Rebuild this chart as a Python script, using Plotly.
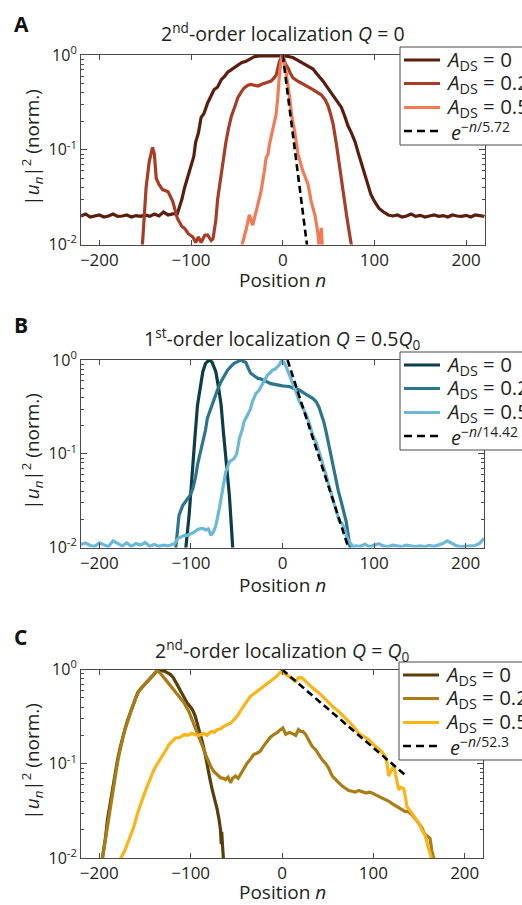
import numpy as np
import plotly.graph_objects as go

# ---------------- Panel A : 2nd-order localization, Q = 0 ----------------
a0_n = [-220, -215, -210, -205, -200, -195, -190, -185, -180, -175, -170, -165, -160, -155, -150,
        -145, -140, -135, -130, -125, -120, -115, -110, -107, -104, -100, -97, -95, -92, -89, -86,
        -82, -79, -75, -71, -67, -63, -60, -56, -52, -48, -45, -40, -35, -31, -25, -20, -12, -5, 0,
        5, 11, 17, 22, 28, 33, 38, 44, 49, 55, 60, 64, 68, 71, 75, 79, 82, 86, 89, 93, 96, 100, 105,
        110, 115, 120, 125, 130, 135, 140, 145, 150, 155, 160, 165, 170, 175, 180, 185, 190, 195,
        200, 205, 210, 215, 220]
a0_v = [0.020, 0.021, 0.0195, 0.020, 0.0205, 0.0195, 0.020, 0.021, 0.0198, 0.020, 0.0205, 0.0195,
        0.0202, 0.0198, 0.0205, 0.0198, 0.021, 0.020, 0.022, 0.0205, 0.021, 0.021, 0.03, 0.04, 0.05,
        0.07, 0.085, 0.12, 0.15, 0.22, 0.24, 0.31, 0.36, 0.43, 0.46, 0.55, 0.60, 0.66, 0.70, 0.74,
        0.78, 0.83, 0.86, 0.92, 0.96, 0.98, 0.98, 0.97, 0.98, 0.99, 0.97, 0.94, 0.87, 0.82, 0.77,
        0.71, 0.62, 0.53, 0.45, 0.37, 0.31, 0.28, 0.22, 0.18, 0.15, 0.12, 0.095, 0.07, 0.055, 0.043,
        0.034, 0.0285, 0.024, 0.022, 0.0205, 0.020, 0.0205, 0.0195, 0.020, 0.021, 0.0198, 0.0203,
        0.0195, 0.020, 0.0205, 0.0198, 0.0202, 0.0195, 0.0205, 0.020, 0.0198, 0.0203, 0.0195, 0.0205,
        0.020, 0.0198]

a2_n = [-160, -153, -149, -145.6, -142, -140, -138, -135, -131, -128, -125, -120, -115, -110, -107,
        -103, -98, -95, -92, -89, -85, -82, -78, -76, -73, -71, -68, -65, -62, -59, -56, -52, -49,
        -45, -42, -38, -35, -31, -27, -23, -20, -16, -12.7, -9, -7, -3.6, 0, 3, 5.8, 8, 11, 15, 18,
        22, 27, 33, 38, 42, 46, 49.5, 52, 55, 58.6, 62, 66, 69.5, 73, 76, 80]
a2_v = [0.005, 0.01, 0.04, 0.075, 0.106, 0.09, 0.05, 0.043, 0.038, 0.037, 0.036, 0.0285, 0.019,
        0.0155, 0.0148, 0.013, 0.012, 0.0105, 0.012, 0.0105, 0.0125, 0.0126, 0.011, 0.0115, 0.018,
        0.03, 0.05, 0.075, 0.12, 0.17, 0.226, 0.29, 0.354, 0.41, 0.45, 0.48, 0.49, 0.48, 0.47, 0.49,
        0.50, 0.51, 0.53, 0.58, 0.62, 0.86, 1.0, 0.80, 0.73, 0.65, 0.575, 0.54, 0.52, 0.49, 0.47,
        0.43, 0.40, 0.38, 0.34, 0.29, 0.24, 0.185, 0.113, 0.064, 0.036, 0.0206, 0.0126, 0.008, 0.005]

a5_n = [-48, -45.5, -40, -36.4, -32.8, -30, -27.3, -24, -21.8, -20, -18.2, -16, -14.6, -11, -7.3,
        -5.5, -3.6, -1, 0, 2, 4, 7.6, 10, 13, 16.7, 19, 22, 25, 27.6, 31, 35, 37, 38.6, 40, 42, 44]
a5_v = [0.006, 0.009, 0.0143, 0.0206, 0.016, 0.020, 0.026, 0.035, 0.046, 0.060, 0.082, 0.090,
        0.113, 0.17, 0.235, 0.35, 0.62, 1.0, 1.0, 0.80, 0.62, 0.35, 0.22, 0.157, 0.089, 0.075,
        0.059, 0.050, 0.043, 0.0285, 0.0206, 0.016, 0.0126, 0.008, 0.015, 0.007]

# ---------------- Panel B : 1st-order localization, Q = 0.5 Q0 ----------------
b0_n = [-107, -105.5, -102, -98, -95.7, -92.8, -90, -87, -84, -80, -77, -72.8, -70, -67, -64.5,
        -62, -58, -56, -54.6, -53]
b0_v = [0.006, 0.01, 0.022, 0.064, 0.146, 0.33, 0.50, 0.75, 0.92, 1.0, 0.95, 0.75, 0.52, 0.33,
        0.17, 0.097, 0.036, 0.018, 0.01, 0.006]

b2_n = [-118, -116.5, -113, -109, -106, -103.7, -101, -98, -95, -92.8, -90, -87, -84, -82, -78,
        -74.6, -71, -67, -63, -60, -56, -52.8, -49, -45.5, -43, -40, -37, -34.6, -31, -27.3, -24,
        -20, -16, -12.7, -9, -5.5, -3, 0, 4, 7.6, 12, 18.5, 24, 29.5, 33, 36.7, 40, 42, 45, 47.7,
        50, 53, 56, 58.6, 61, 64, 67, 69.5, 72, 74, 76]
b2_v = [0.007, 0.01, 0.022, 0.028, 0.031, 0.033, 0.036, 0.042, 0.056, 0.076, 0.10, 0.134, 0.18,
        0.24, 0.31, 0.39, 0.48, 0.59, 0.69, 0.78, 0.86, 0.92, 0.96, 1.0, 0.97, 0.94, 0.80, 0.72,
        0.68, 0.64, 0.63, 0.61, 0.58, 0.56, 0.55, 0.54, 0.53, 0.53, 0.525, 0.52, 0.50, 0.48, 0.44,
        0.41, 0.39, 0.36, 0.31, 0.27, 0.22, 0.17, 0.13, 0.097, 0.07, 0.05, 0.04, 0.031, 0.024,
        0.019, 0.013, 0.01, 0.007]

b5_n = [-220, -215, -210, -205, -200, -195, -190, -185, -180, -175, -170, -165, -160, -155, -150,
        -145, -140, -135, -130, -125, -120, -118, -114, -111, -107, -103.7, -100, -96.4, -93, -89,
        -86, -83.7, -81, -78, -75, -72.8, -69, -65.5, -62, -58, -55, -52.8, -50, -47, -44, -42,
        -38, -35, -32.8, -29, -26, -23.7, -20, -16.4, -13, -11, -8, -5.5, -3, -1, 1, 4, 7, 11.3,
        15, 18.5, 22, 26, 30, 33, 37, 40, 44, 47.7, 51, 55, 58, 62, 65, 67.7, 70, 73, 77, 80, 85,
        90, 95, 100, 105, 110, 115, 120, 125, 130, 135, 140, 145, 150, 155, 160, 165, 170, 175,
        180, 185, 190, 195, 200, 205, 210, 215, 220]
b5_v = [0.0108, 0.0112, 0.0105, 0.0103, 0.0112, 0.0108, 0.0102, 0.0118, 0.011, 0.0104, 0.0112,
        0.0103, 0.011, 0.0106, 0.0113, 0.0103, 0.0108, 0.0103, 0.0106, 0.0104, 0.0108, 0.011,
        0.0125, 0.013, 0.0135, 0.0135, 0.014, 0.0146, 0.0155, 0.016, 0.0158, 0.0154, 0.0158,
        0.0135, 0.015, 0.017, 0.026, 0.043, 0.064, 0.082, 0.087, 0.089, 0.10, 0.146, 0.18, 0.22,
        0.26, 0.30, 0.36, 0.44, 0.47, 0.52, 0.61, 0.69, 0.74, 0.78, 0.80, 0.85, 0.90, 1.0, 0.96,
        0.85, 0.72, 0.56, 0.45, 0.36, 0.31, 0.26, 0.20, 0.158, 0.13, 0.105, 0.08, 0.059, 0.045,
        0.033, 0.025, 0.019, 0.018, 0.016, 0.013, 0.0115, 0.0102, 0.0104, 0.0103, 0.0108, 0.0102,
        0.0105, 0.011, 0.0104, 0.0102, 0.0106, 0.0103, 0.0102, 0.0106, 0.0103, 0.0102, 0.0104,
        0.0102, 0.0105, 0.0103, 0.0106, 0.011, 0.0118, 0.011, 0.0104, 0.0102, 0.0103, 0.0102,
        0.0105, 0.011, 0.0125]

# ---------------- Panel C : 2nd-order localization, Q = Q0 ----------------
c0_n = [-200, -196.5, -193, -191, -188, -185.6, -183, -180, -177, -174.7, -172, -169, -166, -163.6,
        -161, -158, -155, -151, -147, -143.7, -140, -136.5, -133, -129, -125, -122, -119, -116.5,
        -114, -111, -107, -103.7, -101, -98, -95, -92.8, -90, -87, -84, -81.9, -79, -76.4, -73.5,
        -71, -69, -67.3, -66.5, -66, -65, -63.7, -63]
c0_v = [0.006, 0.01, 0.017, 0.0256, 0.038, 0.058, 0.08, 0.11, 0.15, 0.188, 0.23, 0.29, 0.35, 0.41,
        0.48, 0.565, 0.62, 0.69, 0.76, 0.815, 0.89, 0.98, 0.97, 0.96, 0.92, 0.885, 0.82, 0.75,
        0.67, 0.59, 0.50, 0.44, 0.41, 0.375, 0.32, 0.27, 0.22, 0.167, 0.125, 0.094, 0.07, 0.053,
        0.042, 0.033, 0.026, 0.020, 0.014, 0.019, 0.013, 0.01, 0.007]

c2_n = [-200, -196.5, -193, -190, -187, -184, -181, -178, -175, -172, -169, -166, -163, -160, -157,
        -153, -149, -145, -141, -137, -134, -131, -129, -125, -122, -118, -113, -107, -102, -98,
        -94, -91, -88, -85.5, -83, -80, -77, -74.6, -71, -67.3, -64, -61.9, -59, -56.4, -54, -51,
        -48, -45.5, -42, -38, -35, -31, -27, -23.7, -20, -16.4, -13, -9, -5, -1.8, 1, 4, 8, 11.3,
        15, 18, 20.4, 23, 26, 29, 33, 37, 40, 44, 48, 51, 55, 59, 62, 66, 70, 73, 76.8, 80, 84,
        87.7, 92, 95, 98.6, 102, 106, 109.5, 113, 117, 120, 124, 128, 131, 135, 138, 142, 146,
        149.6, 153, 156, 158.7, 162, 164, 166, 168]
c2_v = [0.006, 0.01, 0.016, 0.026, 0.04, 0.06, 0.09, 0.13, 0.18, 0.23, 0.28, 0.35, 0.42, 0.50,
        0.58, 0.65, 0.72, 0.78, 0.86, 0.97, 0.93, 0.87, 0.815, 0.73, 0.67, 0.61, 0.52, 0.44, 0.36,
        0.29, 0.23, 0.196, 0.165, 0.141, 0.12, 0.102, 0.09, 0.083, 0.076, 0.071, 0.070, 0.068,
        0.072, 0.063, 0.070, 0.074, 0.070, 0.077, 0.088, 0.102, 0.11, 0.125, 0.13, 0.136, 0.155,
        0.174, 0.19, 0.204, 0.215, 0.23, 0.24, 0.205, 0.215, 0.21, 0.20, 0.23, 0.22, 0.22, 0.204,
        0.18, 0.153, 0.14, 0.125, 0.11, 0.10, 0.09, 0.074, 0.067, 0.063, 0.058, 0.055, 0.052,
        0.051, 0.050, 0.052, 0.051, 0.049, 0.050, 0.049, 0.047, 0.045, 0.043, 0.042, 0.040, 0.038,
        0.036, 0.034, 0.033, 0.031, 0.031, 0.029, 0.026, 0.0236, 0.021, 0.018, 0.017, 0.0162,
        0.012, 0.01, 0.007]

c5_n = [-180, -176.5, -172, -169, -165, -162, -158, -154.7, -151, -147.4, -144, -140, -135, -131,
        -127, -123.7, -120, -116.5, -112, -107, -103, -99, -96, -92, -88, -85.5, -82, -79, -76.4,
        -74, -71, -67, -63.7, -60, -56.4, -53, -49, -45, -42, -38, -34.6, -31, -27.3, -24, -20, -16,
        -12.7, -9, -5.5, -2, 0, 3, 7.6, 11, 15, 18, 22, 25, 29.5, 35, 40.4, 46, 51.3, 56, 62, 67,
        73, 78, 84, 90, 95, 100, 104, 109, 113, 115, 116.8, 118.5, 120.5, 122, 124, 126, 127.7, 130,
        133, 135, 136.8, 140, 142, 146, 149.6, 153, 157, 160, 163, 164]
c5_v = [0.007, 0.01, 0.012, 0.0145, 0.018, 0.0217, 0.03, 0.038, 0.047, 0.058, 0.07, 0.087, 0.105,
        0.12, 0.14, 0.16, 0.175, 0.188, 0.19, 0.204, 0.20, 0.21, 0.204, 0.20, 0.205, 0.21, 0.20,
        0.215, 0.22, 0.215, 0.23, 0.235, 0.25, 0.26, 0.27, 0.29, 0.32, 0.37, 0.41, 0.47, 0.52,
        0.55, 0.59, 0.62, 0.665, 0.71, 0.75, 0.80, 0.85, 0.93, 0.96, 0.90, 0.85, 0.80, 0.75, 0.82,
        0.815, 0.76, 0.69, 0.62, 0.565, 0.50, 0.44, 0.40, 0.36, 0.32, 0.28, 0.25, 0.21, 0.195,
        0.18, 0.16, 0.148, 0.135, 0.12, 0.10, 0.074, 0.08, 0.087, 0.095, 0.08, 0.06, 0.053, 0.056,
        0.055, 0.045, 0.035, 0.032, 0.030, 0.027, 0.0236, 0.020, 0.017, 0.013, 0.0105, 0.008]

# exponential fits e^{-n/L}: decay lengths, onset and end positions
fit_L = [5.72, 14.42, 52.3]
fit_start = [0, 5.5, 0]
fit_end = [28, 73, 134]

amp_labels = ["0", "0.2", "0.5"]
colors = [
    ["#5b1e0e", "#a83d26", "#f27a55"],
    ["#0d3c4b", "#2b758d", "#6cb9d7"],
    ["#5a3e0a", "#a97c14", "#f9b418"],
]
titles = [
    "2<sup>nd</sup>-order localization <i>Q</i> = 0",
    "1<sup>st</sup>-order localization <i>Q</i> = 0.5<i>Q</i><sub>0</sub>",
    "2<sup>nd</sup>-order localization <i>Q</i> = <i>Q</i><sub>0</sub>",
]
panel_letters = ["A", "B", "C"]
series = [
    [(a0_n, a0_v), (a2_n, a2_v), (a5_n, a5_v)],
    [(b0_n, b0_v), (b2_n, b2_v), (b5_n, b5_v)],
    [(c0_n, c0_v), (c2_n, c2_v), (c5_n, c5_v)],
]

W, H = 522, 905
# plot boxes in pixels: (left, top, right, bottom)
boxes = [(81, 55, 484.5, 244.5), (81, 360, 484, 547.5), (81, 669.5, 483, 858)]
title_cy = [33, 338, 650]
letter_cy = [24, 325, 637]
xtitle_cy = [280, 585, 892]
legend_box = [(400, 47), (400, 352), (399, 662)]
legend_rows = [13, 36.5, 60.5, 84]

FONT = "Open Sans"
TXT = "#231f20"
AXC = "#4a4a4a"
DASH = "7px,4px"


def px(x):
    return x / W


def py(y):
    return 1 - y / H


fig = go.Figure()
minor_vals = [k * 10.0 ** e for e in (-2, -1) for k in range(2, 10)]
shapes = []
annotations = []

for p in range(3):
    xa = "x" if p == 0 else f"x{p + 1}"
    ya = "y" if p == 0 else f"y{p + 1}"
    for s, (nn, vv) in enumerate(series[p]):
        fig.add_trace(go.Scatter(
            x=nn, y=vv, mode="lines", xaxis=xa, yaxis=ya, showlegend=False,
            line=dict(color=colors[p][s], width=3.2),
            name=f"A_DS = {amp_labels[s]}",
        ))
    L = fit_L[p]
    fx = np.array([fit_start[p], fit_end[p]], dtype=float)
    fy = np.exp(-(fx - fit_start[p]) / L)
    fig.add_trace(go.Scatter(
        x=fx, y=fy, mode="lines", xaxis=xa, yaxis=ya, showlegend=False,
        line=dict(color="black", width=2.6, dash=DASH),
        name=f"exp(-n/{L:g})",
    ))

    l, t, r, b = boxes[p]
    xkey = "xaxis" if p == 0 else f"xaxis{p + 1}"
    ykey = "yaxis" if p == 0 else f"yaxis{p + 1}"
    fig.layout[xkey] = dict(
        domain=[px(l), px(r)], anchor=ya, range=[-220, 220],
        tickvals=[-200, -100, 0, 100, 200], ticks="inside", ticklen=5, tickcolor=AXC,
        showline=True, linecolor=AXC, linewidth=1, mirror="allticks",
        showgrid=False, zeroline=False,
        tickfont=dict(family=FONT, size=17, color=TXT),
    )
    fig.layout[ykey] = dict(
        domain=[py(b), py(t)], anchor=xa, type="log", range=[-2, 0],
        tickvals=[0.01, 0.1, 1], ticktext=["10<sup>-2</sup>", "10<sup>-1</sup>", "10<sup>0</sup>"],
        ticks="inside", ticklen=6, tickcolor=AXC,
        minor=dict(tickvals=minor_vals, ticks="inside", ticklen=3, tickcolor=AXC, showgrid=False),
        showline=True, linecolor=AXC, linewidth=1, mirror="allticks",
        showgrid=False, zeroline=False,
        tickfont=dict(family=FONT, size=16, color=TXT),
    )

    # axis titles
    annotations.append(dict(
        text="Position <i>n</i>", x=px((l + r) / 2), y=py(xtitle_cy[p]), xref="paper",
        yref="paper", xanchor="center", yanchor="middle", showarrow=False,
        font=dict(family=FONT, size=19, color=TXT)))
    annotations.append(dict(
        text="|<i>u</i><sub><i>n</i></sub>|<sup>2</sup> (norm.)", textangle=-90,
        x=px(32), y=py((t + b) / 2 - 2), xref="paper", yref="paper",
        xanchor="center", yanchor="middle", showarrow=False,
        font=dict(family=FONT, size=19, color=TXT)))
    # panel title and letter
    annotations.append(dict(
        text=titles[p], x=px((l + r) / 2), y=py(title_cy[p]), xref="paper", yref="paper",
        xanchor="center", yanchor="middle", showarrow=False,
        font=dict(family=FONT, size=19.5, color=TXT)))
    annotations.append(dict(
        text=f"<b>{panel_letters[p]}</b>", x=px(12), y=py(letter_cy[p]), xref="paper",
        yref="paper", xanchor="left", yanchor="middle", showarrow=False,
        font=dict(family=FONT, size=21, color="#111")))

    # legend box with line samples and labels
    bx, by = legend_box[p]
    shapes.append(dict(type="rect", xref="paper", yref="paper", layer="above",
                       x0=px(bx), x1=px(bx + 160), y0=py(by + 98), y1=py(by),
                       fillcolor="white", line=dict(color=AXC, width=1)))
    labels = [f"<i>A</i><sub>DS</sub> = {a}" for a in amp_labels] + \
             [f"<i>e</i><sup>−<i>n</i>/{L:g}</sup>"]
    for k in range(4):
        yy = by + legend_rows[k]
        if k < 3:
            shapes.append(dict(type="line", xref="paper", yref="paper", layer="above",
                               x0=px(bx + 4), x1=px(bx + 40), y0=py(yy), y1=py(yy),
                               line=dict(color=colors[p][k], width=3.2)))
            annotations.append(dict(
                text=labels[k], x=px(bx + 44), y=py(yy - 0.5), xref="paper", yref="paper",
                xanchor="left", yanchor="middle", showarrow=False,
                font=dict(family=FONT, size=20.5, color=TXT)))
        else:
            shapes.append(dict(type="line", xref="paper", yref="paper", layer="above",
                               x0=px(bx + 4), x1=px(bx + 40), y0=py(yy), y1=py(yy),
                               line=dict(color="black", width=2.6, dash="8px,5px")))
            annotations.append(dict(
                text=labels[k], x=px(bx + 49), y=py(yy + 0.5), xref="paper", yref="paper",
                xanchor="left", yanchor="middle", showarrow=False,
                font=dict(family=FONT, size=20, color=TXT)))

fig.update_layout(
    width=W, height=H, margin=dict(l=0, r=0, t=0, b=0, autoexpand=False),
    paper_bgcolor="white", plot_bgcolor="white", showlegend=False,
    font=dict(family=FONT, color=TXT),
    shapes=shapes, annotations=annotations,
)

fig.write_html("out.html")
